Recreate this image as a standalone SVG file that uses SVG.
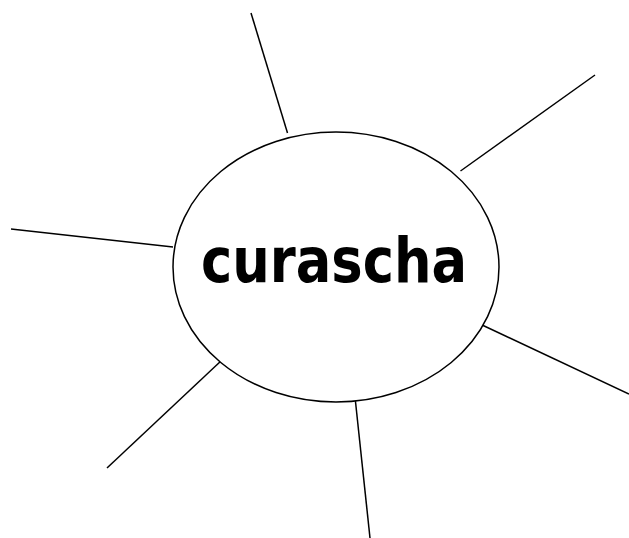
<svg xmlns="http://www.w3.org/2000/svg" width="629" height="538" viewBox="0 0 629 538">
<style>
.c{stroke:#000;stroke-width:1.5;fill:none}
.n{stroke:#000;stroke-width:1.5;fill:#fff}
.t{font-family:"Comic Sans MS","DejaVu Sans",sans-serif;font-weight:bold;font-size:63px;fill:#000}
</style>
<rect width="629" height="538" fill="#fff"/>
<g id="connectors">
<line class="c" x1="251" y1="13" x2="287.5" y2="133"/>
<line class="c" x1="595" y1="75" x2="460.5" y2="171"/>
<line class="c" x1="11" y1="229" x2="173" y2="247"/>
<line class="c" x1="107" y1="468" x2="222" y2="360"/>
<line class="c" x1="355" y1="397" x2="370" y2="538"/>
<line class="c" x1="480" y1="324" x2="629" y2="394"/>
</g>
<g id="node-curascha">
<ellipse class="n" cx="336" cy="267" rx="163" ry="135"/>
<text class="t" x="334" y="282" text-anchor="middle" textLength="266" lengthAdjust="spacingAndGlyphs">curascha</text>
</g>
</svg>
